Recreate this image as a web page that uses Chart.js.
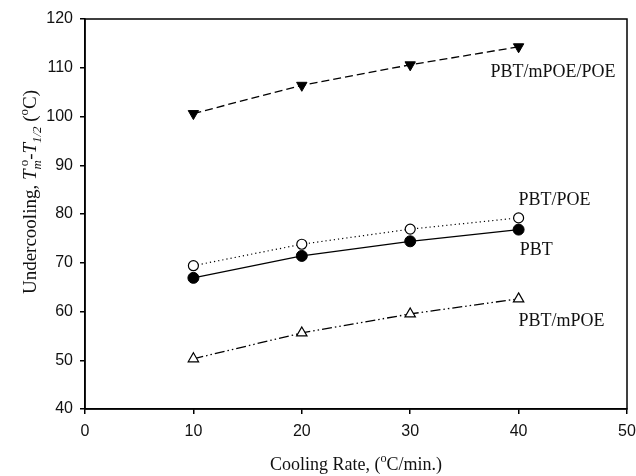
<!DOCTYPE html>
<html lang="en">
<head>
  <meta charset="UTF-8">
  <title>Undercooling vs Cooling Rate</title>
  <script src="https://cdn.jsdelivr.net/npm/chart.js"></script>
  <style>
    body { margin: 0; background: #fff; }
    .wrap { width: 636px; height: 476px; }
  </style>
</head>
<body>
  <div class="wrap"><canvas id="chart"></canvas></div>

  <script>
    // Cooling rates (°C/min) and undercooling values (°C)
    const rates = [10, 20, 30, 40];
    const pbt = [66.9, 71.4, 74.4, 76.8];
    const pbtPoe = [69.4, 73.8, 76.9, 79.2];
    const pbtMpoe = [50.3, 55.6, 59.5, 62.6];
    const pbtMpoePoe = [100.6, 106.4, 110.6, 114.3];

    const serif = "'Liberation Serif', 'Times New Roman', serif";
    const sans = "'Liberation Sans', Arial, sans-serif";

    function pts(vals) {
      return rates.map((r, i) => ({ x: r, y: vals[i] }));
    }

    // Series labels placed next to the curves (data units, left-aligned)
    const seriesLabels = [
      { text: 'PBT/mPOE/POE', x: 37.4, y: 109.0 },
      { text: 'PBT/POE', x: 40.0, y: 82.9 },
      { text: 'PBT', x: 40.1, y: 72.5 },
      { text: 'PBT/mPOE', x: 40.0, y: 57.9 }
    ];

    // Draws text with italic runs and sub/superscripts, centred on (0, 0)
    function drawRich(ctx, segs, size) {
      const small = size * 0.68;
      const fontOf = s => (s.it ? 'italic ' : '') + (s.sub || s.sup ? small : size) + 'px ' + serif;
      let total = 0, pend = 0;
      segs.forEach(s => {
        ctx.font = fontOf(s);
        const w = ctx.measureText(s.t).width;
        if (s.stack) { pend = Math.max(pend, w); }
        else { total += Math.max(pend, w); pend = 0; }
      });
      let x = -total / 2;
      pend = 0;
      ctx.textBaseline = 'alphabetic';
      ctx.textAlign = 'left';
      segs.forEach(s => {
        ctx.font = fontOf(s);
        const w = ctx.measureText(s.t).width;
        const dy = s.sub ? size * 0.28 : (s.sup ? -size * 0.42 : 0);
        ctx.fillText(s.t, x, dy);
        if (s.stack) { pend = Math.max(pend, w); }
        else { x += Math.max(pend, w); pend = 0; }
      });
    }

    const yTitle = [
      { t: 'Undercooling, ' },
      { t: 'T', it: true },
      { t: ' o', sup: true, stack: true },
      { t: 'm', it: true, sub: true },
      { t: '-' },
      { t: 'T', it: true },
      { t: '1/2', it: true, sub: true },
      { t: ' (' },
      { t: 'o', sup: true },
      { t: 'C)' }
    ];
    const xTitle = [
      { t: 'Cooling Rate, (' },
      { t: 'o', sup: true },
      { t: 'C/min.)' }
    ];

    const decorations = {
      id: 'decorations',
      afterDraw(chart) {
        const { ctx, chartArea: a, scales } = chart;
        ctx.save();
        // closed frame around the plot
        ctx.strokeStyle = '#000';
        ctx.lineWidth = 1.5;
        ctx.strokeRect(a.left, a.top, a.right - a.left, a.bottom - a.top);

        ctx.fillStyle = '#111';
        ctx.font = '18px ' + serif;
        ctx.textAlign = 'left';
        ctx.textBaseline = 'middle';
        seriesLabels.forEach(l => {
          ctx.fillText(l.text, scales.x.getPixelForValue(l.x), scales.y.getPixelForValue(l.y));
        });

        ctx.save();
        ctx.translate((a.left + a.right) / 2, 470);
        drawRich(ctx, xTitle, 18);
        ctx.restore();

        ctx.save();
        ctx.translate(36, 192);
        ctx.rotate(-Math.PI / 2);
        drawRich(ctx, yTitle, 19);
        ctx.restore();

        ctx.restore();
      }
    };

    const axisCommon = {
      type: 'linear',
      grid: { display: true, drawOnChartArea: false, drawTicks: true, tickLength: 5, color: '#000', lineWidth: 1.5 },
      border: { display: true, color: '#000', width: 1.5 },
      ticks: { color: '#111', font: { family: sans, size: 16 }, padding: 7 }
    };

    new Chart(document.getElementById('chart'), {
      type: 'scatter',
      data: {
        datasets: [
          {
            label: 'PBT/mPOE/POE',
            data: pts(pbtMpoePoe),
            showLine: true,
            borderColor: '#000',
            backgroundColor: '#000',
            borderWidth: 1.3,
            borderDash: [8, 4],
            pointStyle: 'triangle',
            rotation: 180,
            pointRadius: 6,
            pointBorderWidth: 1
          },
          {
            label: 'PBT/POE',
            data: pts(pbtPoe),
            showLine: true,
            borderColor: '#000',
            backgroundColor: '#fff',
            borderWidth: 1.2,
            borderDash: [1.2, 3],
            pointStyle: 'circle',
            pointRadius: 5,
            pointBorderWidth: 1.2
          },
          {
            label: 'PBT',
            data: pts(pbt),
            showLine: true,
            borderColor: '#000',
            backgroundColor: '#000',
            borderWidth: 1.3,
            pointStyle: 'circle',
            pointRadius: 5.5,
            pointBorderWidth: 1
          },
          {
            label: 'PBT/mPOE',
            data: pts(pbtMpoe),
            showLine: true,
            borderColor: '#000',
            backgroundColor: '#fff',
            borderWidth: 1.3,
            borderDash: [10, 3, 1.5, 3, 1.5, 3],
            pointStyle: 'triangle',
            pointRadius: 6,
            pointBorderWidth: 1.2
          }
        ]
      },
      options: {
        responsive: true,
        maintainAspectRatio: false,
        animation: false,
        layout: { padding: { top: 19, right: 0, left: 0, bottom: 0 } },
        plugins: {
          legend: { display: false },
          tooltip: { enabled: false }
        },
        scales: {
          x: {
            ...axisCommon,
            min: 0,
            max: 50,
            ticks: { ...axisCommon.ticks, stepSize: 10, padding: 8 },
            afterFit: s => { s.height = 67; s.paddingRight = 9; s.paddingLeft = 0; }
          },
          y: {
            ...axisCommon,
            min: 40,
            max: 120,
            ticks: { ...axisCommon.ticks, stepSize: 10 },
            afterFit: s => { s.width = 85; }
          }
        }
      },
      plugins: [decorations]
    });
  </script>
</body>
</html>
